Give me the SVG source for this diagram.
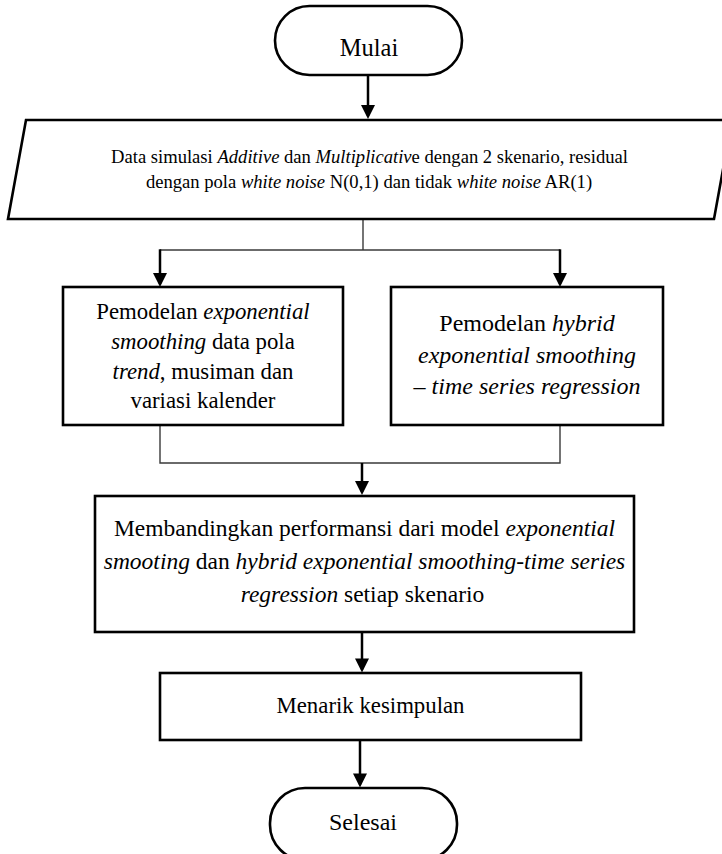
<svg xmlns="http://www.w3.org/2000/svg" width="722" height="854" viewBox="0 0 722 854">
<defs>
<marker id="ah" viewBox="0 0 10 10" refX="7.9" refY="5" markerWidth="5.6" markerHeight="6" orient="auto" markerUnits="strokeWidth">
<path d="M0,0 L10,5 L0,10 z" fill="#000"/>
</marker>
<style>
.shape{fill:#fff;stroke:#000;stroke-width:2.6}
.t{font-family:"Liberation Serif","Times New Roman",serif;fill:#000;text-anchor:middle}
.i{font-style:italic}
.arr{fill:none;stroke:#000;stroke-width:2.5;marker-end:url(#ah)}
.thin{fill:none;stroke:#3a3a3a;stroke-width:1.4}
</style>
</defs>
<rect width="722" height="854" fill="#fff"/>
<g id="connectors">
<line class="arr" x1="368" y1="75" x2="368" y2="116"/>
<polyline class="thin" points="363,219 363,250"/>
<polyline class="thin" points="160,250 560,250"/>
<line class="arr" x1="160" y1="249.3" x2="160" y2="284"/>
<line class="arr" x1="560" y1="249.3" x2="560" y2="284"/>
<polyline class="thin" points="160,425 160,463 560,463 560,425"/>
<line class="arr" x1="362" y1="463" x2="362" y2="492"/>
<line class="arr" x1="362" y1="632" x2="362" y2="669.5"/>
<line class="arr" x1="360" y1="740" x2="360" y2="784.5"/>
</g>
<g id="mulai">
<rect class="shape" x="275" y="6" width="187" height="69" rx="34.5"/>
<text class="t" font-size="24.5" x="369" y="56">Mulai</text>
</g>
<g id="data">
<polygon class="shape" points="26,120 732,120 714,219 8,219"/>
<g class="t" font-size="18.6">
<text x="369.5" y="163">Data simulasi <tspan class="i">Additive</tspan> dan <tspan class="i">Multiplicativ</tspan>e dengan 2 skenario, residual</text>
<text x="369" y="188">dengan pola <tspan class="i">white noise</tspan> N(0,1) dan tidak <tspan class="i">white noise</tspan> AR(1)</text>
</g>
</g>
<g id="es">
<rect class="shape" x="63" y="287" width="280" height="138"/>
<g class="t" font-size="22.8">
<text x="203" y="319">Pemodelan <tspan class="i">exponential</tspan></text>
<text x="203" y="349"><tspan class="i">smoothing</tspan> data pola</text>
<text x="203" y="378.5"><tspan class="i">trend</tspan>, musiman dan</text>
<text x="203" y="408">variasi kalender</text>
</g>
</g>
<g id="hybrid">
<rect class="shape" x="391" y="287" width="272" height="138"/>
<g class="t" font-size="24">
<text x="527" y="331">Pemodelan <tspan class="i">hybrid</tspan></text>
<text x="527" y="363" class="i">exponential smoothing</text>
<text x="527" y="394" class="i">– time series regression</text>
</g>
</g>
<g id="compare">
<rect class="shape" x="95" y="496" width="539" height="136"/>
<g class="t" font-size="23.5">
<text x="364.5" y="536">Membandingkan performansi dari model <tspan class="i">exponential</tspan></text>
<text x="364.5" y="569"><tspan class="i">smooting</tspan> dan <tspan class="i">hybrid exponential smoothing-time series</tspan></text>
<text x="362.5" y="602"><tspan class="i">regression</tspan> setiap skenario</text>
</g>
</g>
<g id="menarik">
<rect class="shape" x="160" y="673" width="421" height="67"/>
<text class="t" font-size="22.8" x="370.5" y="713">Menarik kesimpulan</text>
</g>
<g id="selesai">
<rect class="shape" x="270" y="788" width="187" height="72" rx="35"/>
<text class="t" font-size="24" x="363" y="830">Selesai</text>
</g>
</svg>
